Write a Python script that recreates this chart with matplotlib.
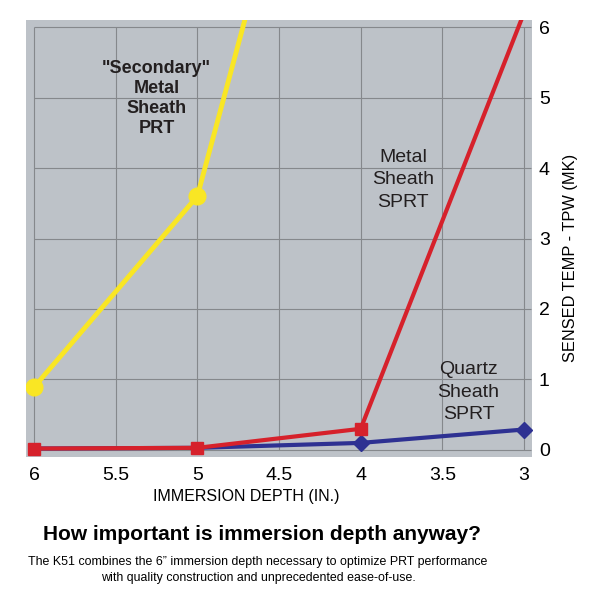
#!/usr/bin/env python3

import matplotlib

matplotlib.use("Agg")
import matplotlib.pyplot as plt

plt.rcParams["font.family"] = ["Liberation Sans", "DejaVu Sans"]

# immersion depth, inches
depth = [6, 5, 4, 3]
secondary_depth = [6, 5, 4.5]
secondary_prt = [0.89, 3.6, 7.9]
metal_sprt = [0.02, 0.03, 0.3, 6.2]
quartz_sprt = [0.02, 0.03, 0.1, 0.29]

x_ticks = [6, 5.5, 5, 4.5, 4, 3.5, 3]
x_tick_labels = ["6", "5.5", "5", "4.5", "4", "3.5", "3"]
y_ticks = [0, 1, 2, 3, 4, 5, 6]

BG = "#bdc2c8"
GRID = "#85888c"
YELLOW = "#f9e624"
RED = "#d6212b"
BLUE = "#2e3192"


def Main() -> None:
    fig = plt.figure(figsize=(6.01, 6.0), dpi=100)
    ax = fig.add_axes([26 / 601, 1 - 457 / 600, 506 / 601, 437 / 600])
    ax.set_facecolor(BG)
    for spine in ax.spines.values():
        spine.set_visible(False)

    ax.set_xlim(6.049, 2.951)
    ax.set_ylim(-0.1, 6.1)

    ax.hlines(y_ticks, 6, 2.96, color=GRID, linewidth=0.8, zorder=1)
    ax.vlines(x_ticks, 0, 6, color=GRID, linewidth=0.8, zorder=1)

    ax.plot(depth, quartz_sprt, color=BLUE, linewidth=3, marker="D",
            markersize=8.5, markevery=[2, 3], zorder=3)
    ax.plot(depth, metal_sprt, color=RED, linewidth=3, marker="s",
            markersize=8, markevery=[0, 1, 2], zorder=4)
    ax.plot(secondary_depth, secondary_prt, color=YELLOW, linewidth=3.5,
            marker="o", markersize=12, markevery=[0, 1], zorder=5)

    ax.set_xticks(x_ticks)
    ax.set_xticklabels(x_tick_labels)
    ax.set_yticks(y_ticks)
    ax.yaxis.tick_right()
    ax.tick_params(axis="x", length=0, pad=7, labelsize=14)
    ax.tick_params(axis="y", length=0, pad=5, labelsize=14)

    ax.text(5.25, 4.99, '"Secondary"\nMetal\nSheath\nPRT', ha="center",
            va="center", fontsize=13, fontweight="bold", color="#231f20",
            linespacing=1.22, zorder=6)
    ax.text(3.74, 3.83, "Metal\nSheath\nSPRT", ha="center", va="center",
            fontsize=14, color="#231f20", linespacing=1.42, zorder=6)
    ax.text(3.34, 0.82, "Quartz\nSheath\nSPRT", ha="center", va="center",
            fontsize=14, color="#231f20", linespacing=1.42, zorder=6)

    fig.text(570 / 601, 1 - 258 / 600, "SENSED TEMP - TPW (MK)",
             rotation=90, ha="center", va="center", fontsize=11.8)
    fig.text(246 / 601, 1 - 496 / 600, "IMMERSION DEPTH (IN.)",
             ha="center", va="center", fontsize=11.5)
    fig.text(262 / 601, 1 - 535 / 600,
             "How important is immersion depth anyway?",
             ha="center", va="center", fontsize=15, fontweight="bold")
    fig.text(258 / 601, 1 - 570 / 600,
             "The K51 combines the 6\u201d immersion depth necessary to "
             "optimize PRT performance\nwith quality construction and "
             "unprecedented ease-of-use.",
             ha="center", va="center", fontsize=8.9, linespacing=1.35)

    fig.savefig("out.png", dpi=100)
    plt.close(fig)


if __name__ == "__main__":
    Main()
